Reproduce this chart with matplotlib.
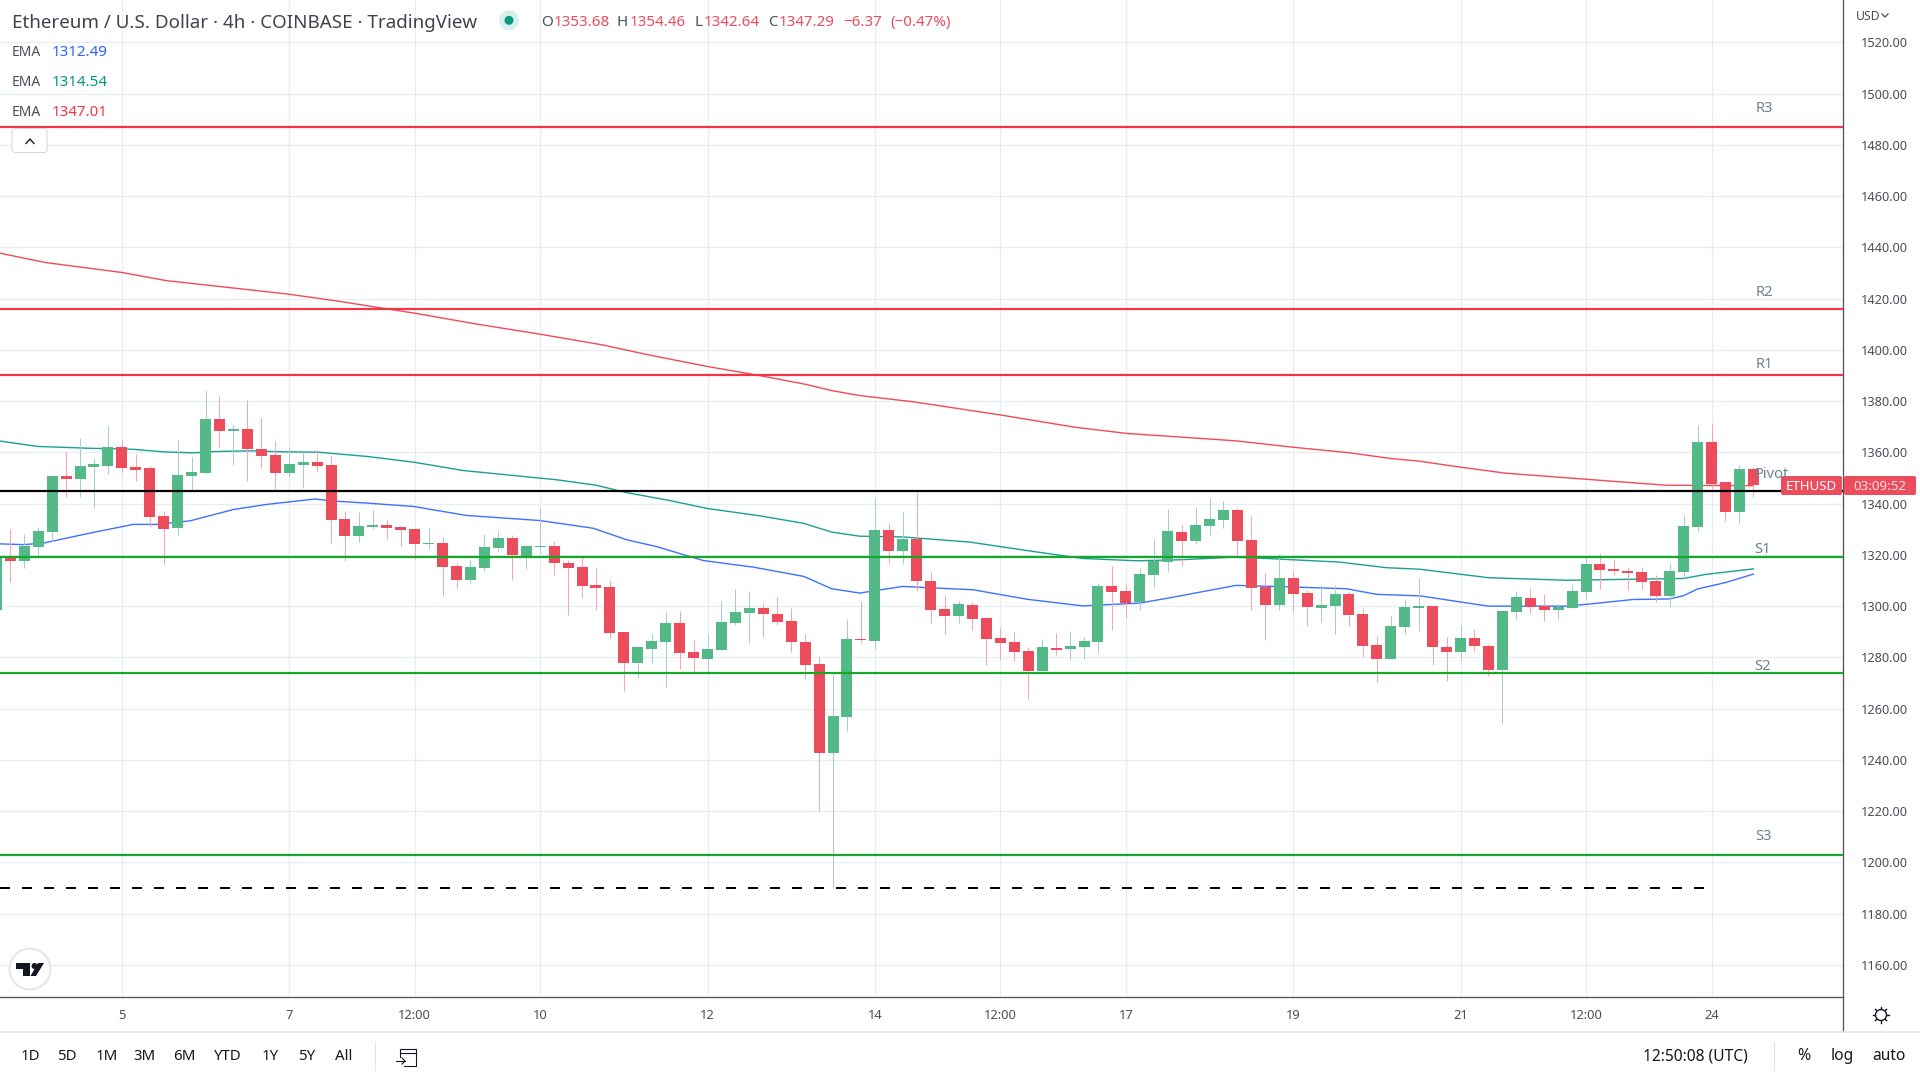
import matplotlib
matplotlib.use("Agg")
import matplotlib.pyplot as plt
from matplotlib.patches import Circle, FancyBboxPatch, Polygon, Rectangle

plt.rcParams['font.family'] = ['Noto Sans', 'DejaVu Sans']

# ---------- data ----------
opens = [1298.6, 1319.0, 1317.7, 1323.2, 1329.0, 1350.9, 1349.7, 1354.4, 1354.8, 1362.2,
         1354.4, 1354.0, 1335.3, 1330.6, 1350.9, 1352.0, 1373.1, 1368.4, 1369.2, 1361.4,
         1359.0, 1352.0, 1355.1, 1356.3, 1355.1, 1334.1, 1327.5, 1331.0, 1331.7, 1331.0,
         1330.2, 1324.3, 1324.7, 1315.8, 1310.3, 1315.0, 1322.8, 1326.7, 1319.2, 1323.2,
         1323.5, 1316.9, 1315.3, 1308.3, 1307.6, 1290.0, 1277.9, 1283.4, 1286.1, 1293.5,
         1282.2, 1279.5, 1283.0, 1293.5, 1297.4, 1299.4, 1297.0, 1294.3, 1286.1, 1277.5,
         1242.7, 1256.8, 1287.3, 1286.5, 1329.8, 1321.6, 1326.3, 1309.9, 1299.0, 1296.3,
         1300.5, 1295.4, 1287.7, 1286.1, 1282.6, 1274.8, 1283.7, 1283.4, 1284.1, 1286.1,
         1307.9, 1306.0, 1301.7, 1312.2, 1317.3, 1329.0, 1325.5, 1331.3, 1333.7, 1337.6,
         1325.9, 1307.6, 1300.5, 1311.1, 1305.2, 1299.4, 1300.1, 1304.8, 1297.0, 1284.9,
         1279.5, 1292.0, 1299.4, 1300.0, 1284.0, 1282.0, 1287.5, 1284.4, 1275.0, 1297.6,
         1303.1, 1300.0, 1298.4, 1299.2, 1305.4, 1316.3, 1314.4, 1313.6, 1313.2, 1309.7,
         1303.9, 1313.2, 1330.8, 1363.9, 1348.3, 1336.6, 1353.68]
highs = [1319.0, 1330.2, 1328.2, 1331.0, 1351.2, 1360.2, 1365.7, 1357.9, 1370.4, 1364.9,
         1359.4, 1354.7, 1337.2, 1364.9, 1358.3, 1384.4, 1382.0, 1370.7, 1380.5, 1373.5,
         1364.5, 1362.2, 1360.2, 1361.0, 1359.0, 1337.2, 1336.8, 1337.6, 1333.7, 1331.3,
         1330.6, 1330.6, 1327.0, 1316.9, 1318.1, 1328.2, 1329.4, 1327.8, 1323.9, 1338.4,
         1325.5, 1318.1, 1320.0, 1315.3, 1310.3, 1290.0, 1284.5, 1289.2, 1297.8, 1298.2,
         1286.9, 1289.2, 1302.1, 1306.8, 1306.0, 1301.3, 1303.6, 1299.4, 1289.2, 1280.6,
         1273.6, 1295.0, 1302.1, 1342.3, 1332.5, 1336.8, 1344.6, 1313.4, 1304.4, 1302.1,
         1301.7, 1295.8, 1292.0, 1290.0, 1284.1, 1287.3, 1289.6, 1290.4, 1288.0, 1309.1,
         1315.7, 1308.7, 1315.0, 1326.3, 1338.0, 1331.7, 1338.7, 1342.3, 1341.1, 1338.4,
         1335.2, 1313.0, 1320.4, 1313.8, 1306.4, 1308.3, 1308.3, 1305.6, 1299.4, 1288.4,
         1296.2, 1302.9, 1311.0, 1300.0, 1287.9, 1292.5, 1291.0, 1285.1, 1298.0, 1305.8,
         1307.0, 1304.6, 1300.7, 1308.5, 1318.7, 1320.6, 1318.3, 1315.2, 1315.2, 1312.0,
         1316.7, 1335.4, 1370.6, 1370.9, 1348.3, 1354.9, 1354.46]
lows = [1298.6, 1309.6, 1315.0, 1319.7, 1325.2, 1342.4, 1342.4, 1338.1, 1351.6, 1352.4,
        1348.9, 1331.3, 1316.5, 1327.8, 1345.4, 1351.6, 1362.2, 1355.1, 1348.9, 1354.0,
        1345.4, 1350.5, 1346.2, 1352.4, 1324.7, 1317.7, 1325.1, 1330.2, 1326.3, 1323.5,
        1318.5, 1322.4, 1304.0, 1307.2, 1308.7, 1313.8, 1321.2, 1310.3, 1314.6, 1320.4,
        1312.2, 1296.6, 1303.3, 1298.6, 1287.7, 1267.0, 1272.0, 1277.9, 1268.5, 1275.6,
        1274.4, 1274.8, 1283.0, 1292.7, 1285.7, 1288.0, 1292.7, 1282.2, 1271.7, 1220.1,
        1190.1, 1251.4, 1285.7, 1283.4, 1316.9, 1316.5, 1306.0, 1293.5, 1289.2, 1293.5,
        1290.8, 1277.1, 1279.1, 1278.7, 1263.9, 1274.8, 1281.0, 1279.1, 1279.5, 1281.8,
        1290.8, 1295.5, 1298.6, 1307.5, 1313.8, 1315.7, 1324.3, 1327.8, 1330.6, 1319.2,
        1298.6, 1286.9, 1298.6, 1297.8, 1292.3, 1293.9, 1289.2, 1292.3, 1280.2, 1270.5,
        1279.5, 1289.2, 1290.4, 1277.0, 1270.7, 1278.5, 1282.4, 1272.7, 1253.9, 1294.9,
        1297.2, 1294.1, 1294.9, 1299.2, 1302.7, 1306.6, 1312.0, 1306.2, 1306.6, 1301.5,
        1299.6, 1310.9, 1328.8, 1344.4, 1333.1, 1332.3, 1342.64]
closes = [1319.0, 1317.7, 1323.5, 1329.4, 1350.9, 1349.7, 1354.8, 1355.5, 1362.2, 1354.0,
          1353.2, 1334.9, 1330.2, 1351.2, 1352.4, 1373.1, 1368.4, 1369.2, 1361.4, 1358.7,
          1352.0, 1355.5, 1356.3, 1354.8, 1333.7, 1327.5, 1331.3, 1331.7, 1330.6, 1329.8,
          1324.3, 1324.7, 1315.4, 1310.3, 1315.4, 1323.2, 1326.7, 1320.0, 1323.5, 1323.5,
          1316.9, 1315.0, 1307.9, 1307.2, 1289.6, 1277.9, 1284.1, 1286.5, 1293.5, 1281.8,
          1279.8, 1283.4, 1293.9, 1297.8, 1299.4, 1297.0, 1293.9, 1286.1, 1277.1, 1242.7,
          1257.2, 1287.3, 1286.9, 1329.8, 1321.6, 1326.3, 1309.9, 1298.6, 1296.3, 1300.9,
          1295.0, 1287.3, 1285.7, 1282.2, 1274.8, 1284.1, 1283.0, 1284.5, 1286.5, 1307.9,
          1305.6, 1301.3, 1312.6, 1317.7, 1329.4, 1325.5, 1331.7, 1334.1, 1337.6, 1325.5,
          1307.2, 1300.5, 1311.1, 1304.8, 1299.7, 1300.5, 1304.8, 1296.6, 1284.5, 1279.5,
          1292.3, 1299.7, 1300.1, 1284.0, 1282.0, 1287.5, 1284.4, 1275.0, 1298.0, 1303.5,
          1299.6, 1298.4, 1299.7, 1305.8, 1316.3, 1314.0, 1313.6, 1312.8, 1309.3, 1303.9,
          1313.6, 1331.2, 1363.9, 1347.5, 1336.6, 1353.4, 1347.29]

ema_red_idx = [0.26, 3.55, 8.99, 12.2, 16.7, 21.0, 24.5, 30, 34.4, 39, 43.5, 46.8, 51, 54.6,
               57.9, 60, 62, 65.8, 72, 77.35, 81.05, 88.9, 93, 97.1, 100, 102, 104.9, 108.2,
               114, 119.7, 121.8, 126]
ema_red = [1437.7, 1434.05, 1430.2, 1427.0, 1424.3, 1421.7, 1419.0, 1414.3, 1410.1, 1406.1,
           1401.9, 1398.0, 1393.5, 1390.1, 1386.7, 1384.0, 1382.1, 1379.7, 1374.6, 1369.8,
           1367.4, 1364.5, 1362.0, 1359.8, 1357.6, 1356.6, 1354.3, 1351.9, 1349.5, 1347.2,
           1347.1, 1347.01]
ema_green_idx = [0.26, 3.0, 6.71, 9.82, 11.97, 14.1, 15.56, 18.2, 20.6, 23, 26.6, 29.9, 33.5,
                 40.2, 43.0, 45.2, 48.3, 51, 54.8, 57.9, 59.9, 61.9, 65, 69.8, 73.9, 77.9,
                 81.8, 84.9, 88.7, 91.1, 96.3, 99.7, 102.1, 107, 112.6, 117.4, 121, 122.6, 126]
ema_green = [1364.4, 1362.3, 1361.6, 1361.2, 1360.2, 1359.8, 1360.3, 1360.6, 1360.2, 1360.1,
             1358.4, 1356.2, 1352.9, 1349.3, 1347.2, 1344.3, 1341.2, 1338.1, 1335.2, 1332.3,
             1328.9, 1327.3, 1327.0, 1325.0, 1321.7, 1318.6, 1317.7, 1318.1, 1319.1, 1318.6,
             1317.2, 1315.0, 1314.4, 1311.1, 1310.1, 1310.5, 1310.8, 1312.4, 1314.54]
ema_blue_idx = [0.26, 1.93, 3.37, 6.71, 9.82, 11.5, 13.9, 17.0, 19.4, 22.85, 24.2, 26.6, 29.9,
                33.7, 38.98, 42.8, 45.2, 47.3, 50.7, 54.3, 57.9, 59.9, 61.9, 65.0, 68.4,
                70.05, 73.9, 77.9, 82.0, 84.4, 88.9, 91.6, 96.8, 99, 102.1, 107, 112.6, 114,
                117.4, 120, 121, 122, 124, 126]
ema_blue = [1324.3, 1324.0, 1324.6, 1328.5, 1331.9, 1331.9, 1333.3, 1337.7, 1339.7, 1341.8,
            1341.0, 1340.2, 1338.9, 1335.4, 1333.4, 1330.4, 1325.9, 1323.3, 1317.8, 1315.2,
            1311.6, 1306.8, 1305.1, 1307.7, 1306.8, 1306.4, 1302.7, 1300.1, 1301.2, 1303.5,
            1308.1, 1307.7, 1306.8, 1304.6, 1304.0, 1300.0, 1300.0, 1300.7, 1302.6, 1302.8,
            1304.1, 1306.7, 1309.2, 1312.49]

res_levels = [1390.1, 1416.0, 1486.9]
sup_levels = [1319.1, 1273.9, 1202.8]
pivot_level = 1344.9
dashed_level = 1190.0
dashed_end_idx = 122.5

price_ticks = list(range(1160, 1521, 20))
price_labels = [f"{p}.00" for p in price_ticks]
time_tick_idx = [9, 21, 30, 39, 51, 63, 72, 81, 93, 105, 114, 123]
time_tick_labels = ['5', '7', '12:00', '10', '12', '14', '12:00', '17', '19', '21', '12:00', '24']
bold_time_labels = {'10', '17', '24'}
level_names = ['R3', 'R2', 'R1', 'Pivot', 'S1', 'S2', 'S3']
ranges = ['1D', '5D', '1M', '3M', '6M', 'YTD', '1Y', '5Y', 'All']

# ---------- style ----------
UP, DOWN = '#53b987', '#eb4d5c'
UP_W, DOWN_W = '#a9cccf', '#f7a5ae'
GRID = '#e6edf3'
AX = '#50535e'
TXT = '#4a4e59'
RED = '#f23645'
LEV_G = '#17a82a'
LBL = '#6f8194'
PX = 0.72  # points per pixel at dpi 100

fig = plt.figure(figsize=(19.2, 10.8), dpi=100, facecolor='white')
ax = fig.add_axes([0, (1080 - 997) / 1080, 1843 / 1920, 997 / 1080])
ax.set_xlim(0.2615, 132.43)
ax.set_ylim(1147.5, 1536.5)
for s in ('top', 'left'):
    ax.spines[s].set_visible(False)
for s in ('right', 'bottom'):
    ax.spines[s].set_color(AX)
    ax.spines[s].set_linewidth(1.3 * PX)

ax.yaxis.tick_right()
ax.set_yticks(price_ticks, price_labels, fontsize=9.2, color=TXT)
ax.set_xticks(time_tick_idx, time_tick_labels, fontsize=9.3, color=TXT)
for lab in ax.get_xticklabels():
    if lab.get_text() in bold_time_labels:
        lab.set_fontweight('bold')
ax.tick_params(axis='both', length=0)
ax.tick_params(axis='y', pad=13)
ax.tick_params(axis='x', pad=8.5)
ax.grid(True, color=GRID, lw=1.3 * PX, zorder=0)
ax.set_axisbelow(True)

# EMAs sit behind the candles
ax.plot(ema_red_idx, ema_red, color=RED, lw=1.0, zorder=2, alpha=0.9)
ax.plot(ema_green_idx, ema_green, color='#009688', lw=1.0, zorder=2, alpha=0.9)
ax.plot(ema_blue_idx, ema_blue, color='#2962ff', lw=1.0, zorder=2, alpha=0.9)

# candles
x = list(range(len(opens)))
for i, o, h, l, c in zip(x, opens, highs, lows, closes):
    up = c >= o
    ax.vlines(i, l, h, color=UP_W if up else DOWN_W, lw=1.0 * PX, zorder=3)
    ax.bar(i, abs(c - o), bottom=min(o, c), width=0.789, color=UP if up else DOWN,
           linewidth=0, zorder=4)

# levels above the candles
for lv in res_levels:
    ax.axhline(lv, color=RED, lw=2.2 * PX, zorder=5)
for lv in sup_levels:
    ax.axhline(lv, color=LEV_G, lw=2.2 * PX, zorder=5)
ax.axhline(pivot_level, color='black', lw=2.2 * PX, zorder=5)
ax.hlines(dashed_level, ax.get_xlim()[0], dashed_end_idx, color='black', lw=2 * PX,
          linestyles=[(0, (5, 6))], zorder=5)

# ---------- overlay in pixel coordinates ----------
ui = fig.add_axes([0, 0, 1, 1], zorder=10)
ui.set_xlim(0, 1920)
ui.set_ylim(1080, 0)
ui.axis('off')
ui.patch.set_alpha(0)


def T(px, py, s, size=10.9, color=TXT, ha='left', **kw):
    ui.text(px, py + 1.8, s, fontsize=size, color=color, ha=ha, va='center', **kw)


# header
T(11.5, 21, 'Ethereum / U.S. Dollar · 4h · COINBASE · TradingView', size=13.5, color='#3f434e')
ui.add_patch(Circle((509, 20.3), 10, color='#d9efec', lw=0))
ui.add_patch(Circle((509, 20.3), 4.5, color='#089981', lw=0))
for px, s, col in [(541, 'O', TXT), (553.5, '1353.68', DOWN), (617, 'H', TXT), (629.5, '1354.46', DOWN),
                   (694, 'L', TXT), (704, '1342.64', DOWN), (768, 'C', TXT), (779, '1347.29', DOWN),
                   (843, '−6.37', DOWN), (890, '(−0.47%)', DOWN)]:
    T(px, 21, s, color=col)
for py, v, col in [(50.7, '1312.49', '#2962ff'), (80.7, '1314.54', '#009688'), (110.7, '1347.01', RED)]:
    T(11.5, py, 'EMA', size=10.0)
    T(52, py, v, color=col)

# collapse button
ui.add_patch(FancyBboxPatch((12, 128.5), 35, 24, boxstyle='round,pad=0,rounding_size=3',
                            fc='white', ec='#d6d8de', lw=1 * PX))
ui.plot([26, 30, 34], [143.5, 139, 143.5], color='#131722', lw=1.0)

# level labels
for name, px, py in zip(level_names, [1764, 1764, 1764, 1772, 1763, 1763, 1763],
                        [106.5, 290.5, 362.5, 472.5, 547.7, 665, 835]):
    T(px, py, name, size=10.6, color=LBL, ha='center')

# last-price tags
ui.add_patch(FancyBboxPatch((1781, 476), 61, 19, boxstyle='round,pad=0,rounding_size=2',
                            fc=DOWN, ec='none'))
ui.add_patch(FancyBboxPatch((1844, 476), 72, 19, boxstyle='round,pad=0,rounding_size=2',
                            fc=DOWN, ec='none'))
T(1811.5, 484.5, 'ETHUSD', size=9.6, color='white', ha='center')
T(1880, 484.5, '03:09:52', size=9.6, color='#fde3e5', ha='center')

# currency label
T(1855.7, 14.7, 'USD', size=8.8, color=TXT)
ui.plot([1882, 1885, 1888], [14, 17, 14], color=TXT, lw=0.9)

# axes extras
ui.plot([1843, 1843], [997, 1031], color=AX, lw=1.3 * PX)
ui.plot([0, 1920], [1031.5, 1031.5], color='#e0e3eb', lw=1.5 * PX)
for sx in (375, 1774):
    ui.plot([sx, sx], [1042, 1070], color='#e0e3eb', lw=1 * PX)

# TV logo
ui.add_patch(Circle((30, 969), 20.5, fc='white', ec='#e4e6ea', lw=1.5))
ui.add_patch(Polygon([(16, 963), (30, 963), (30, 976), (23, 976), (23, 969), (16, 969)], color='#131722', lw=0))
ui.add_patch(Circle((34.5, 966), 3, color='#131722', lw=0))
ui.add_patch(Polygon([(38, 963), (44, 963), (36, 976), (30.5, 976)], color='#131722', lw=0))

# settings icon
ui.add_patch(Circle((1881, 1015), 5.5, fc='white', ec='#131722', lw=1.0))
for dx, dy in [(0, -8), (0, 8), (8, 0), (-8, 0), (5.6, 5.6), (-5.6, 5.6), (5.6, -5.6), (-5.6, -5.6)]:
    ui.plot([1881 + dx * 0.8, 1881 + dx], [1015 + dy * 0.8, 1015 + dy], color='#131722', lw=1.0)

# toolbar
for px, s in zip([30, 67, 107, 145, 184, 228, 270, 307, 344], ranges):
    T(px, 1054.5, s, size=10.8, color='#131722', ha='center')
ui.add_patch(Rectangle((400, 1049), 16, 17, fc='none', ec='#131722', lw=0.8))
ui.add_patch(Rectangle((396, 1058), 8, 10, fc='white', ec='none'))
ui.plot([400, 416], [1053, 1053], color='#131722', lw=0.8)
ui.plot([396, 405], [1061, 1061], color='#131722', lw=0.8)
ui.plot([402, 405, 402], [1058, 1061, 1064], color='#131722', lw=0.8)
T(1695, 1054.5, '12:50:08 (UTC)', size=11.2, color='#131722', ha='center')
T(1804, 1054.5, '%', size=11.6, color='#131722', ha='center')
T(1842, 1054.5, 'log', size=11.2, color='#131722', ha='center')
T(1889, 1054.5, 'auto', size=11.2, color='#131722', ha='center')

fig.savefig('out.png', dpi=100, facecolor='white')
